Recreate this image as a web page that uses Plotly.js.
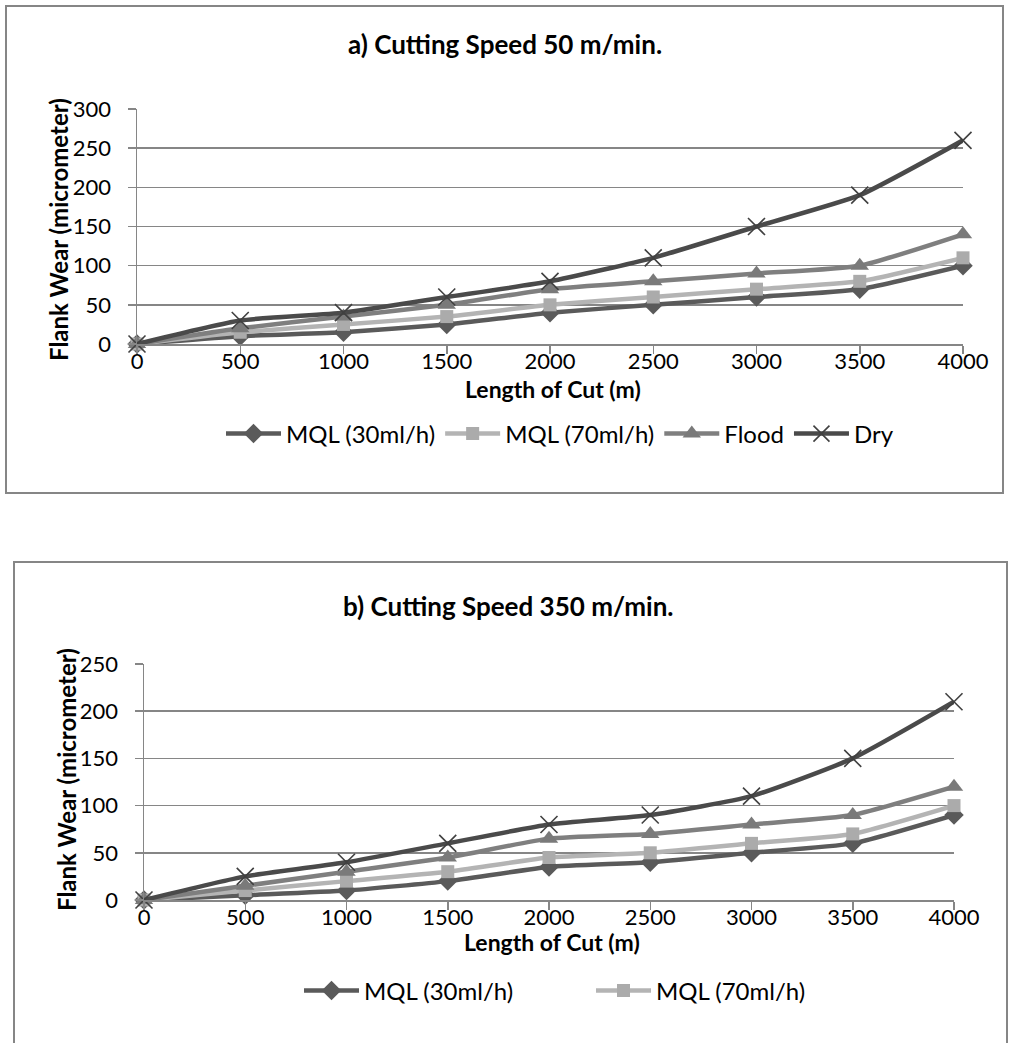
<!DOCTYPE html>
<html>
<head>
<meta charset="utf-8">
<script src="https://cdn.plot.ly/plotly-3.0.1.min.js"></script>
<style>
html,body{margin:0;padding:0;background:#fff;width:1009px;height:1043px;overflow:hidden;}
#chart{width:1009px;height:1043px;}
</style>
</head>
<body>
<div id="chart"></div>
<script>
// Data
var lengthOfCut = [0, 500, 1000, 1500, 2000, 2500, 3000, 3500, 4000];
var seriesNames = ['MQL (30ml/h)', 'MQL (70ml/h)', 'Flood', 'Dry'];
var a_mql30 = [0, 10, 15, 25, 40, 50, 60, 70, 100];
var a_mql70 = [0, 15, 25, 35, 50, 60, 70, 80, 110];
var a_flood = [0, 20, 35, 50, 70, 80, 90, 100, 140];
var a_dry   = [0, 30, 40, 60, 80, 110, 150, 190, 260];
var b_mql30 = [0, 5, 10, 20, 35, 40, 50, 60, 90];
var b_mql70 = [0, 10, 20, 30, 45, 50, 60, 70, 100];
var b_flood = [0, 15, 30, 45, 65, 70, 80, 90, 120];
var b_dry   = [0, 25, 40, 60, 80, 90, 110, 150, 210];
var xTicks = [0, 500, 1000, 1500, 2000, 2500, 3000, 3500, 4000];
var titleA = 'a) Cutting Speed 50 m/min.';
var titleB = 'b) Cutting Speed 350 m/min.';
var xTitle = 'Length of Cut (m)';
var yTitle = 'Flank Wear (micrometer)';

var W = 1009, H = 1043;
function fx(px){ return px / W; }
function fy(py){ return 1 - py / H; }

var FONT = 'Lato, "Open Sans", sans-serif';
var styles = [
  {color:'#5a5a5a', marker:{symbol:'diamond', size:15, color:'#5a5a5a'}},
  {color:'#b4b4b4', marker:{symbol:'square', size:13, color:'#ababab'}},
  {color:'#7f7f7f', marker:{symbol:'triangle-up', size:16, color:'#7a7a7a'}},
  {color:'#4a4a4a', marker:{symbol:'x-thin-open', size:17, color:'#404040', line:{width:1.6, color:'#404040'}}}
];

// The bottom chart's legend is cut off by the picture's edge after its first row,
// so only its first two entries are visible.
function mk(y, i, ax, legendId, showLeg){
  var s = styles[i];
  return {
    type:'scatter', mode:'lines+markers', x:lengthOfCut, y:y, name:seriesNames[i],
    xaxis:'x'+ax, yaxis:'y'+ax, legend:legendId, showlegend:showLeg,
    line:{color:s.color, width:4.5, shape:'spline', smoothing:0.5},
    marker:s.marker, cliponaxis:false
  };
}
var data = [
  mk(a_mql30,0,'', 'legend', true),
  mk(a_mql70,1,'', 'legend', true),
  mk(a_flood,2,'', 'legend', true),
  mk(a_dry,3,'', 'legend', true),
  mk(b_mql30,0,'2','legend2', true),
  mk(b_mql70,1,'2','legend2', true),
  mk(b_flood,2,'2','legend2', false),
  mk(b_dry,3,'2','legend2', false)
];

var axisCommon = {
  showline:true, linecolor:'#868686', linewidth:1.5,
  ticks:'outside', ticklen:8, tickwidth:1.5, tickcolor:'#868686',
  tickfont:{family:FONT, size:22, color:'#000'}, zeroline:false, fixedrange:true
};
function xa(domain, anchor){
  return Object.assign({}, axisCommon, {domain:domain, anchor:anchor, range:[0,4000], tickvals:xTicks,
    ticktext:xTicks.map(String), showgrid:false, ticklabelstandoff:-11});
}
function ya(domain, anchor, max){
  return Object.assign({}, axisCommon, {domain:domain, anchor:anchor, range:[0,max], dtick:50,
    showgrid:true, gridcolor:'#868686', gridwidth:1.5, ticklabelstandoff:12});
}

var legFont = {family:FONT, size:24, color:'#000'};
var layout = {
  width:W, height:H, margin:{l:0, r:0, t:0, b:0, autoexpand:false}, paper_bgcolor:'#fff', plot_bgcolor:'#fff',
  font:{family:FONT, color:'#000'},
  title:{text:'<b>'+titleA+'</b>', x:fx(505), xanchor:'center', y:fy(45), yanchor:'middle', font:{family:FONT, size:26, color:'#000'}},
  xaxis: xa([fx(137), fx(963)], 'y'),
  yaxis: ya([fy(344), fy(109)], 'x', 300),
  xaxis2: xa([fx(144), fx(954)], 'y2'),
  yaxis2: ya([fy(900), fy(664)], 'x2', 250),
  legend:{orientation:'h', x:fx(221), xanchor:'left', y:fy(434), yanchor:'middle', font:legFont, bgcolor:'rgba(0,0,0,0)', itemwidth:55},
  legend2:{orientation:'h', x:fx(299), xanchor:'left', y:fy(991), yanchor:'middle', font:legFont, bgcolor:'rgba(0,0,0,0)', itemwidth:55, entrywidth:222, entrywidthmode:'pixels'},
  annotations:[
    {text:'<b>'+titleB+'</b>', xref:'paper', yref:'paper', x:fx(508), y:fy(606), xanchor:'center', yanchor:'middle', showarrow:false, font:{family:FONT, size:26, color:'#000'}},
    {text:'<b>'+xTitle+'</b>', xref:'paper', yref:'paper', x:fx(553), y:fy(389), xanchor:'center', yanchor:'middle', showarrow:false, font:{family:FONT, size:23, color:'#000'}},
    {text:'<b>'+xTitle+'</b>', xref:'paper', yref:'paper', x:fx(552), y:fy(942), xanchor:'center', yanchor:'middle', showarrow:false, font:{family:FONT, size:23, color:'#000'}},
    {text:'<b>'+yTitle+'</b>', xref:'paper', yref:'paper', x:fx(58), y:fy(230), xanchor:'center', yanchor:'middle', textangle:-90, showarrow:false, font:{family:FONT, size:24, color:'#000'}},
    {text:'<b>'+yTitle+'</b>', xref:'paper', yref:'paper', x:fx(66), y:fy(780), xanchor:'center', yanchor:'middle', textangle:-90, showarrow:false, font:{family:FONT, size:24, color:'#000'}}
  ],
  shapes:[
    {type:'rect', xref:'paper', yref:'paper', x0:fx(6), x1:fx(1003), y0:fy(493), y1:fy(6), line:{color:'#868686', width:2}, fillcolor:'rgba(0,0,0,0)', layer:'below'},
    {type:'rect', xref:'paper', yref:'paper', x0:fx(14), x1:fx(1007), y0:fy(1080), y1:fy(562), line:{color:'#868686', width:2}, fillcolor:'rgba(0,0,0,0)', layer:'below'}
  ],
  showlegend:true
};

Plotly.newPlot('chart', data, layout, {displayModeBar:false, staticPlot:true});
</script>
</body>
</html>
